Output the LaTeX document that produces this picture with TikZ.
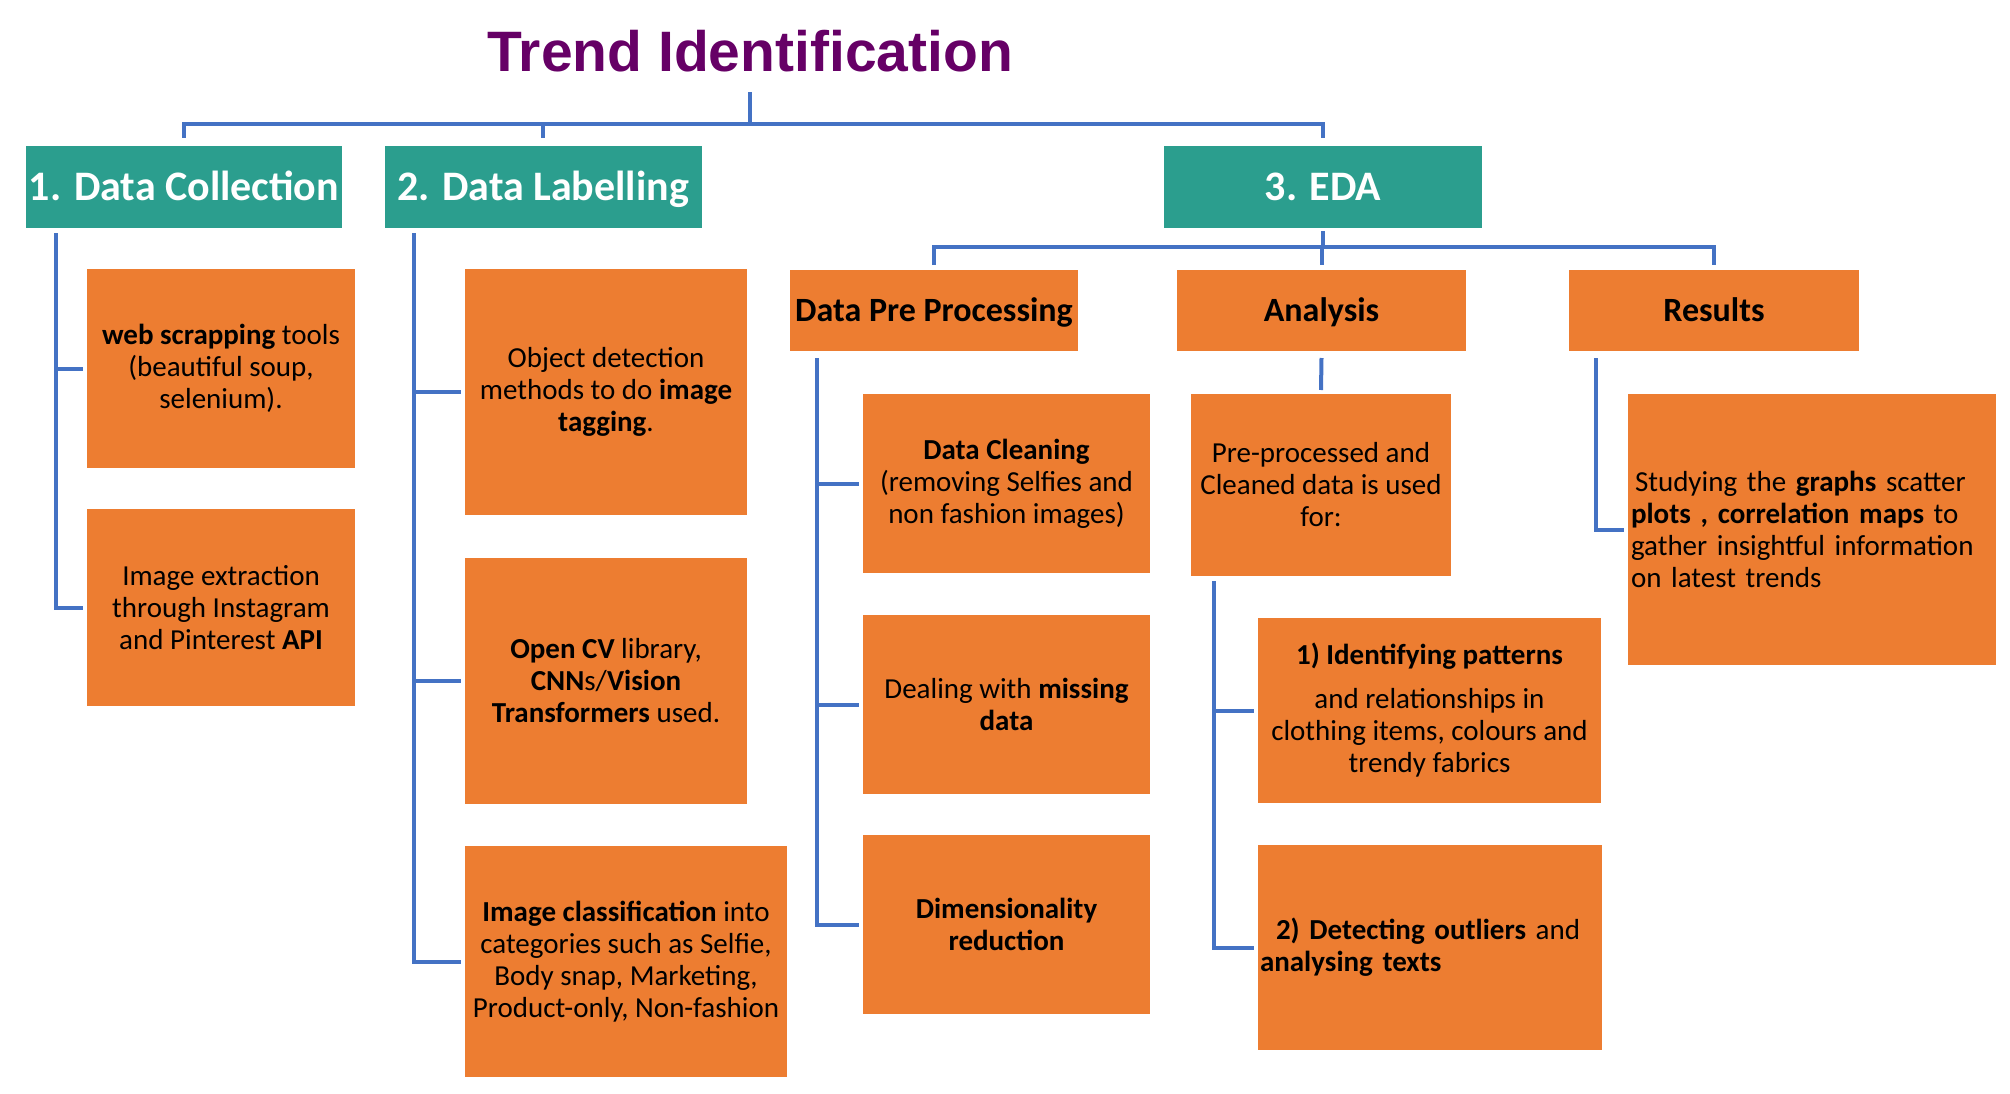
\documentclass[tikz,border=0pt]{standalone}
\usepackage{fontspec}
\setmainfont{Carlito}
\newfontfamily\titlefont{Liberation Sans}
\usetikzlibrary{calc}

\definecolor{headteal}{RGB}{43,158,142}
\definecolor{leaforange}{RGB}{237,125,49}
\definecolor{linkblue}{RGB}{68,114,196}
\definecolor{titlepurple}{RGB}{102,0,102}

\tikzset{
  headbox/.style={rectangle, fill=headteal, text=white, inner sep=0pt, outer sep=0pt,
    minimum height=82pt, text height=27pt, text depth=0pt, font=\fontsize{42}{48}\selectfont\bfseries},
  subhead/.style={rectangle, fill=leaforange, inner sep=0pt, outer sep=0pt,
    minimum height=81pt, minimum width=289pt, text height=22pt, text depth=0pt, font=\fontsize{34}{40}\selectfont\bfseries},
  leafbox/.style={rectangle, fill=leaforange, inner sep=0pt, outer sep=0pt, align=center,
    font=\fontsize{29}{32}\selectfont},
  link/.style={draw=linkblue, line width=4pt}
}

\begin{document}
\begin{tikzpicture}[x=1pt, y=-1pt]
  \useasboundingbox (0,0) rectangle (2010,1094);

  % Title
  \node[font=\titlefont\fontsize{57}{60}\selectfont\bfseries, text=titlepurple, inner sep=0pt] (title) at (750,51) {Trend Identification};

  % Main stages
  \node[headbox, minimum width=316pt] (dc) at (184,187) {1. Data Collection};
  \node[headbox, minimum width=317pt] (dl) at (543,187) {2. Data Labelling};
  \node[headbox, minimum width=318pt] (eda) at (1323,187) {3. EDA};

  % Title -> stages
  \coordinate (bar) at (750,124);
  \draw[link] ([yshift=-20pt]title.south) -- (bar);
  \draw[link] ([yshift=8pt]dc.north) |- (bar) -| ([yshift=8pt]eda.north);
  \draw[link] (dl.north |- bar) -- ([yshift=8pt]dl.north);

  % Data Collection
  \node[leafbox, minimum width=268pt, minimum height=199pt] (dc1) at (221,368.5) {\textbf{web scrapping} tools\\ (beautiful soup,\\ selenium).};
  \node[leafbox, minimum width=268pt, minimum height=197pt] (dc2) at (221,607.5) {Image extraction\\ through Instagram\\ and Pinterest \textbf{API}};

  % Data Labelling
  \node[leafbox, minimum width=282pt, minimum height=246pt] (dl1) at (606,392) {Object detection\\ methods to do \textbf{image}\\ \textbf{tagging}.};
  \node[leafbox, minimum width=282pt, minimum height=246pt] (dl2) at (606,681) {\textbf{Open CV} library,\\ \textbf{CNN}s/\textbf{Vision}\\ \textbf{Transformers} used.};
  \node[leafbox, minimum width=322pt, minimum height=231pt] (dl3) at (626,961.5) {\textbf{Image classification} into\\ categories such as Selfie,\\ Body snap, Marketing,\\ Product-only, Non-fashion};

  % EDA sub stages
  \node[subhead, minimum width=288pt] (pre) at (934,310.5) {Data Pre Processing};
  \node[subhead] (ana) at (1321.5,310.5) {Analysis};
  \node[subhead, minimum width=290pt] (res) at (1714,310.5) {Results};

  \coordinate (ebar) at (1323,247);
  \draw[link] ([yshift=-3pt]eda.south) -- (ebar);
  \draw[link] ([yshift=5pt]pre.north) |- (ebar) -| ([yshift=5pt]res.north);
  \draw[link] (ana.north |- ebar) -- ([yshift=5pt]ana.north);

  % Pre processing
  \node[leafbox, minimum width=287pt, minimum height=179pt] (pc1) at (1006.5,483.5) {\textbf{Data Cleaning}\\ (removing Selfies and\\ non fashion images)};
  \node[leafbox, minimum width=287pt, minimum height=179pt] (pc2) at (1006.5,704.5) {Dealing with \textbf{missing}\\ \textbf{data}};
  \node[leafbox, minimum width=287pt, minimum height=179pt] (pc3) at (1006.5,924.5) {\textbf{Dimensionality}\\ \textbf{reduction}};

  % Analysis
  \node[leafbox, minimum width=260pt, minimum height=182pt] (pp) at (1321,485) {Pre-processed and\\ Cleaned data is used\\ for:};
  \node[leafbox, minimum width=343pt, minimum height=185pt] (an1) at (1429.5,710.5) {\textbf{1) Identifying patterns}\\[12pt] and relationships in\\ clothing items, colours and\\ trendy fabrics};
  \node[leafbox, minimum width=344pt, minimum height=205pt, text width=340pt, align=left] (an2) at (1430,947.5) {\hspace*{16pt}\textbf{2) Detecting outliers} and\\ \textbf{analysing texts}};
  \draw[link] ([yshift=-7pt]ana.south) -- ([yshift=4pt]pp.north);

  % Results
  \node[leafbox, minimum width=368pt, minimum height=271pt, text width=362pt, align=left] (rs1) at (1812,529.5) {\hspace*{4pt}Studying the \textbf{graphs} scatter\\ \textbf{plots , correlation maps} to\\ gather insightful information\\ on latest trends};

  % Spines
  \coordinate (dcTop) at ($(dc.south west)+(30,5)$);
  \draw[link] (dcTop) |- ([xshift=-4pt]dc2.west);
  \draw[link] (dcTop |- dc1.west) -- ([xshift=-4pt]dc1.west);

  \coordinate (dlTop) at ($(dl.south west)+(29,5)$);
  \draw[link] (dlTop) |- ([xshift=-4pt]dl3.west);
  \foreach \i in {1,2} {
    \draw[link] (dlTop |- dl\i.west) -- ([xshift=-4pt]dl\i.west);
  }

  \coordinate (preTop) at ($(pre.south west)+(27,7)$);
  \draw[link] (preTop) |- ([xshift=-4pt]pc3.west);
  \foreach \i in {1,2} {
    \draw[link] (preTop |- pc\i.west) -- ([xshift=-4pt]pc\i.west);
  }

  \coordinate (ppTop) at ($(pp.south west)+(23,5)$);
  \draw[link] (ppTop) |- ([xshift=-4pt]an2.west);
  \draw[link] (ppTop |- an1.west) -- ([xshift=-4pt]an1.west);

  \coordinate (resTop) at ($(res.south west)+(27,7)$);
  \draw[link] (resTop) |- ([xshift=-4pt]rs1.west);

\end{tikzpicture}
\end{document}
